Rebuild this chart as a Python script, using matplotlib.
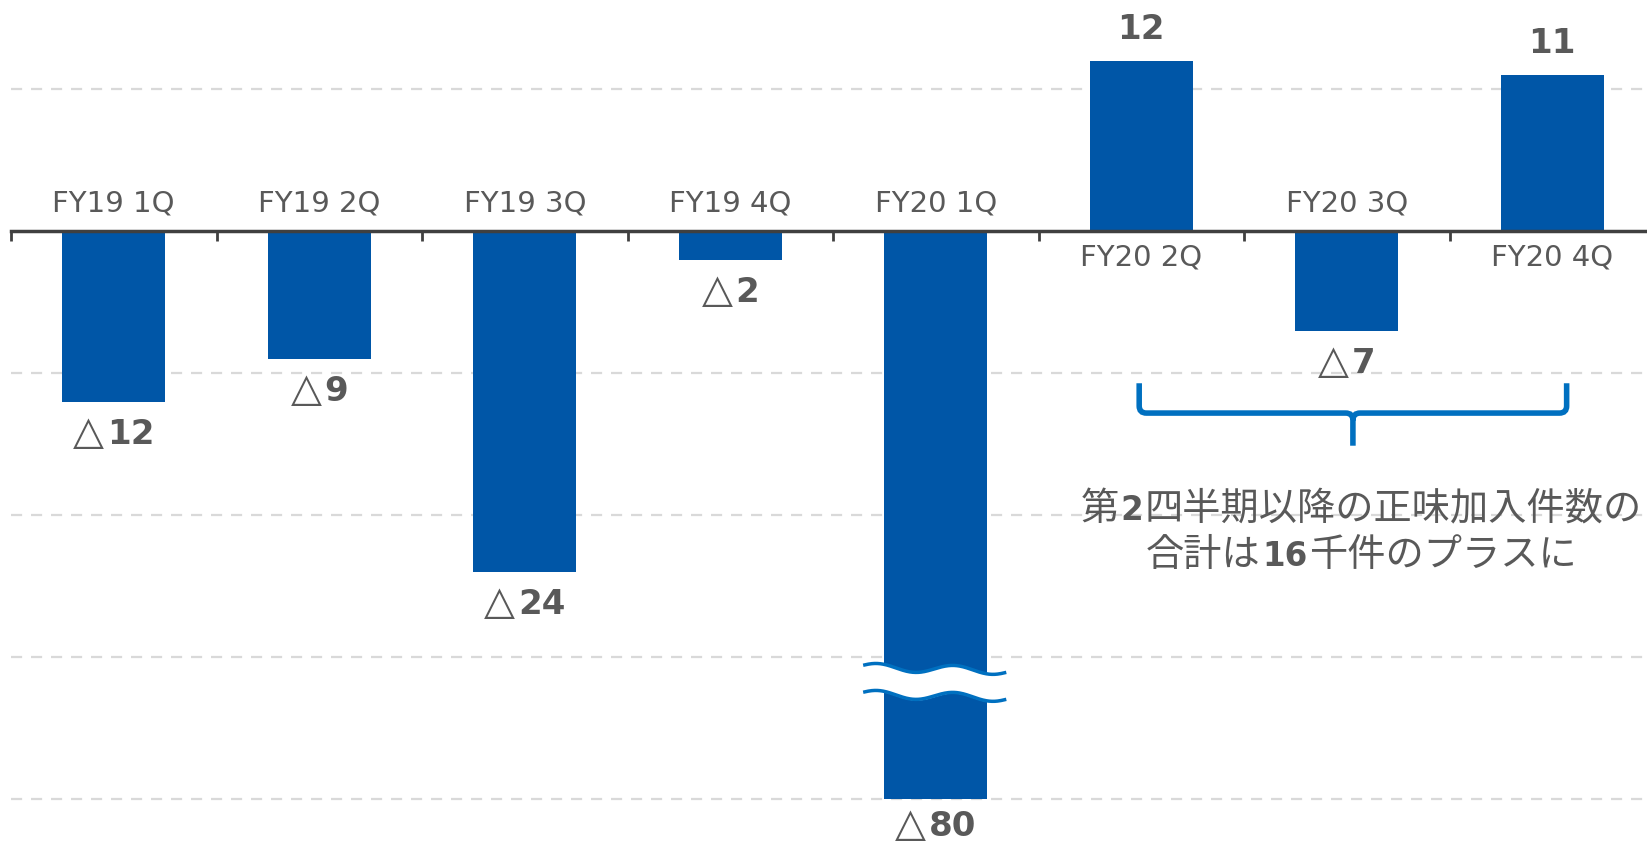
import numpy as np
import matplotlib
matplotlib.use("Agg")
import matplotlib.pyplot as plt
from matplotlib.path import Path
from matplotlib.patches import PathPatch
from matplotlib.offsetbox import TextArea, HPacker, VPacker, AnnotationBbox

plt.rcParams["font.family"] = ["DejaVu Sans", "Noto Sans CJK JP"]

quarters = ["FY19 1Q", "FY19 2Q", "FY19 3Q", "FY19 4Q",
            "FY20 1Q", "FY20 2Q", "FY20 3Q", "FY20 4Q"]
net_adds = [-12, -9, -24, -2, -80, 12, -7, 11]
value_labels = ["△12", "△9", "△24", "△2", "△80", "12", "△7", "11"]

floor = -40          # bars below this are drawn broken
grid_levels = [10, 0, -10, -20, -30, -40]

bar_color = "#0056A7"
accent = "#0070C0"
text_color = "#595959"

fig = plt.figure(figsize=(16.47, 8.46), dpi=100)
ax = fig.add_axes([11 / 1647, 0, 1644 / 1647, 1])
ax.set_xlim(-0.5, 7.5)
ax.set_ylim(-43.3, 16.3)

x = np.arange(len(quarters))
shown = [max(v, floor) for v in net_adds]
ax.bar(x, shown, width=0.5, color=bar_color, zorder=3)

# grid
for g in grid_levels:
    if g != 0:
        ax.axhline(g, color="#D9D9D9", lw=1.6, ls=(0, (5, 4)), zorder=1)

for s in ["top", "right", "left"]:
    ax.spines[s].set_visible(False)
ax.spines["bottom"].set_position(("data", 0))
ax.spines["bottom"].set_color("#404040")
ax.spines["bottom"].set_linewidth(2.5)
ax.spines["bottom"].set_zorder(4)
ax.set_yticks([])
ax.set_xticks(np.arange(-0.5, 8, 1))
ax.tick_params(axis="x", direction="out", length=7, width=2, color="#404040",
               labelbottom=False)


def piece(s, size, bold=False, cjk=False):
    fam = ["Noto Sans CJK JP", "DejaVu Sans"] if cjk else ["DejaVu Sans"]
    return TextArea(s, textprops=dict(fontsize=size, color=text_color, family=fam,
                                      fontweight="bold" if bold else "normal"))


def value_box(lab):
    parts = []
    if lab.startswith("△"):
        parts.append(piece("△", 29))
        lab = lab[1:]
    parts.append(piece(lab, 24.5, bold=True))
    return HPacker(children=parts, align="baseline", pad=0, sep=2)


for xi, v, sv, q, lab in zip(x, net_adds, shown, quarters, value_labels):
    dy_cat = 28 if v < 0 else -26
    if v < floor:
        dy_val = -26          # keep the label inside the figure
    elif v < 0:
        dy_val = -31
    else:
        dy_val = 32
    ax.annotate(q, (xi, 0), xytext=(0, dy_cat), textcoords="offset pixels",
                ha="center", va="center", fontsize=21, color=text_color)
    ax.add_artist(AnnotationBbox(value_box(lab), (xi, sv), xybox=(0, dy_val),
                                 boxcoords="offset pixels", frameon=False,
                                 box_alignment=(0.5, 0.5), zorder=7))

# axis break on the FY20 1Q bar
i_break = net_adds.index(min(net_adds))
t = np.linspace(0, 1, 200)
wx = i_break - 0.345 + 0.68 * t
wave = 0.28 * np.cos(2 * np.pi * (t - 0.635) / 0.55) - 0.25 * t
upper = -30.7 + wave
lower = -32.6 + wave
ax.fill_between(wx, lower, upper, color="white", zorder=5)
ax.plot(wx, upper, color=accent, lw=2.5, zorder=6)
ax.plot(wx, lower, color=accent, lw=2.5, zorder=6)

# brace under FY20 2Q..4Q
x0, x1, xm = 4.99, 7.07, 6.03
ytop, ybar, ytip = -10.7, -12.8, -15.1
rx, ry = 0.035, 0.5
verts = [(x0, ytop), (x0, ybar + ry), (x0, ybar), (x0 + rx, ybar),
         (xm - rx, ybar), (xm, ybar), (xm, ybar - ry), (xm, ytip),
         (xm, ybar - ry), (xm, ybar), (xm + rx, ybar),
         (x1 - rx, ybar), (x1, ybar), (x1, ybar + ry), (x1, ytop)]
codes = [Path.MOVETO, Path.LINETO, Path.CURVE3, Path.CURVE3,
         Path.LINETO, Path.CURVE3, Path.CURVE3, Path.LINETO,
         Path.MOVETO, Path.CURVE3, Path.CURVE3,
         Path.LINETO, Path.CURVE3, Path.CURVE3, Path.LINETO]
ax.add_patch(PathPatch(Path(verts, codes), fill=False, ec=accent, lw=4,
                       capstyle="butt", zorder=4))

# note with bold numbers
line1 = HPacker(children=[piece("第", 27.5, cjk=True), piece("2", 23.5, bold=True),
                          piece("四半期以降の正味加入件数の", 27.5, cjk=True)],
                align="baseline", pad=0, sep=1)
line2 = HPacker(children=[piece("合計は", 27.5, cjk=True), piece("16", 23.5, bold=True),
                          piece("千件のプラスに", 27.5, cjk=True)],
                align="baseline", pad=0, sep=1)
note = VPacker(children=[line1, line2], align="center", pad=0, sep=5)
ax.add_artist(AnnotationBbox(note, (6.07, -21.2), xycoords="data", frameon=False,
                             box_alignment=(0.5, 0.5), zorder=7))

fig.savefig("out.png", dpi=100)
